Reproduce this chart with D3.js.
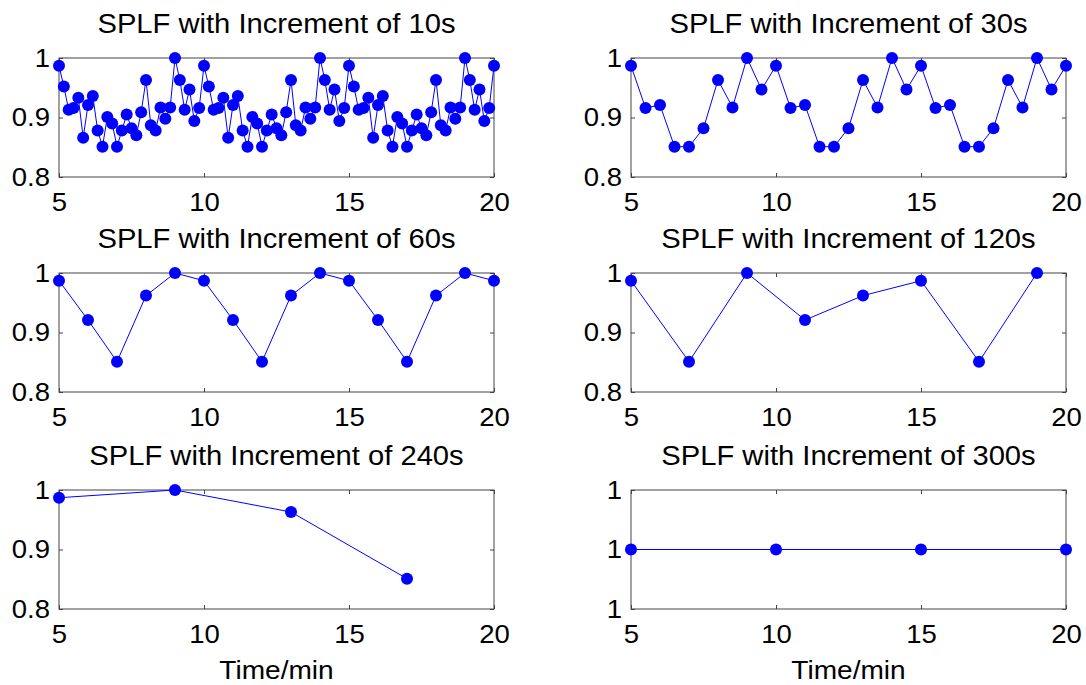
<!DOCTYPE html>
<html>
<head>
<meta charset="utf-8">
<script src="https://cdn.jsdelivr.net/npm/d3@7"></script>
<style>
  body { margin: 0; background: #fff; }
  svg { display: block; }
  text { font-family: "Liberation Sans", Arial, sans-serif; fill: #000; }
</style>
</head>
<body>
<div id="chart"></div>
<script>
// increments in seconds, one panel each
var increments = [10, 30, 60, 120, 240, 300];
var startTime = 5; // min

var spl10 = [
  0.987,0.952,0.913,0.916,0.933,0.866,0.921,0.936,0.878,0.851,
  0.901,0.890,0.851,0.878,0.905,0.882,0.870,0.909,0.963,0.887,
  0.878,0.917,0.898,0.917,1.000,0.963,0.913,0.947,0.894,0.916,
  0.987,0.952,0.913,0.916,0.933,0.866,0.921,0.936,0.878,0.851,
  0.901,0.890,0.851,0.878,0.905,0.882,0.870,0.909,0.963,0.887,
  0.878,0.917,0.898,0.917,1.000,0.963,0.913,0.947,0.894,0.916,
  0.987,0.952,0.913,0.916,0.933,0.866,0.921,0.936,0.878,0.851,
  0.901,0.890,0.851,0.878,0.905,0.882,0.870,0.909,0.963,0.887,
  0.878,0.917,0.898,0.917,1.000,0.963,0.913,0.947,0.894,0.916,
  0.987
];
var spl30 = [
  0.987,0.916,0.921,0.851,0.851,0.882,0.963,0.917,1.000,0.947,
  0.987,0.916,0.921,0.851,0.851,0.882,0.963,0.917,1.000,0.947,
  0.987,0.916,0.921,0.851,0.851,0.882,0.963,0.917,1.000,0.947,
  0.987
];
var spl60 = [
  0.987,0.921,0.851,0.962,1.000,
  0.987,0.921,0.851,0.962,1.000,
  0.987,0.921,0.851,0.962,1.000,
  0.987
];
var spl120 = [0.987,0.851,1.000,0.921,0.962,0.987,0.851,1.000];
var spl240 = [0.987,1.000,0.963,0.851];
var spl300 = [1,1,1,1];

var seriesList = [spl10, spl30, spl60, spl120, spl240, spl300];

var xTicks = [5, 10, 15, 20];
var yTicks = [0.8, 0.9, 1];
var yTicksFlat = [0.999, 1, 1.001];
var xLabel = "Time/min";

var width = 1086, height = 685;
var colLeft = [59, 631], rowTop = [58, 273, 490];
var plotW = 435, plotH = 119;
var sx = 1.08; // the source glyphs are a bit wide
var boxColor = "#444";

var svg = d3.select("#chart").append("svg")
  .attr("width", width)
  .attr("height", height);

seriesList.forEach(function(vals, i) {
  var col = i % 2, row = Math.floor(i / 2);
  var flat = (i === 5);
  var inc = increments[i];

  var pts = vals.map(function(v, k) {
    return { t: startTime + k * inc / 60, v: v };
  });

  var g = svg.append("g")
    .attr("transform", "translate(" + colLeft[col] + "," + rowTop[row] + ")");

  var x = d3.scaleLinear().domain([5, 20]).range([0, plotW]);
  var y = d3.scaleLinear()
    .domain(flat ? [0.999, 1.001] : [0.8, 1])
    .range([plotH, 0]);

  var fmt = flat ? d3.format(".0f") : function(d) { return d === 1 ? "1" : d3.format(".1f")(d); };

  g.append("rect")
    .attr("width", plotW).attr("height", plotH)
    .attr("fill", "none").attr("stroke", boxColor).attr("stroke-width", 1);

  var xb = g.append("g").attr("transform", "translate(0," + plotH + ")")
    .call(d3.axisBottom(x).tickValues(xTicks).tickSizeInner(-4).tickSizeOuter(0).tickPadding(16));
  var xt = g.append("g")
    .call(d3.axisTop(x).tickValues(xTicks).tickSizeInner(-4).tickSizeOuter(0).tickFormat(""));
  var yl = g.append("g")
    .call(d3.axisLeft(y).tickValues(flat ? yTicksFlat : yTicks).tickSizeInner(-4).tickSizeOuter(0).tickPadding(9).tickFormat(fmt));
  var yr = g.append("g").attr("transform", "translate(" + plotW + ",0)")
    .call(d3.axisRight(y).tickValues(flat ? yTicksFlat : yTicks).tickSizeInner(-4).tickSizeOuter(0).tickFormat(""));

  [xb, xt, yl, yr].forEach(function(a) {
    a.select(".domain").remove();
    a.selectAll(".tick line").attr("stroke", boxColor);
    a.selectAll(".tick text").attr("fill", "#000").style("font-size", "25.5px");
  });

  var line = d3.line().x(function(d) { return x(d.t); }).y(function(d) { return y(d.v); });

  g.append("path").datum(pts)
    .attr("d", line)
    .attr("fill", "none")
    .attr("stroke", "#0000ff")
    .attr("stroke-width", 1);

  g.selectAll("circle.pt").data(pts).enter().append("circle")
    .attr("class", "pt")
    .attr("cx", function(d) { return x(d.t); })
    .attr("cy", function(d) { return y(d.v); })
    .attr("r", 6)
    .attr("fill", "#0000ff");

  g.append("text")
    .attr("x", plotW / 2).attr("y", -25)
    .attr("text-anchor", "middle")
    .style("font-size", "27px")
    .text("SPLF with Increment of " + inc + "s");

  if (row === 2) {
    g.append("text")
      .attr("x", plotW / 2).attr("y", plotH + 70)
      .attr("text-anchor", "middle")
      .style("font-size", "26px")
      .text(xLabel);
  }
});

// widen glyphs horizontally, keep anchor positions
svg.selectAll("text").each(function() {
  var t = d3.select(this);
  var x0 = +t.attr("x") || 0;
  t.attr("x", x0 / sx).attr("transform", "scale(" + sx + ",1)");
});
</script>
</body>
</html>
